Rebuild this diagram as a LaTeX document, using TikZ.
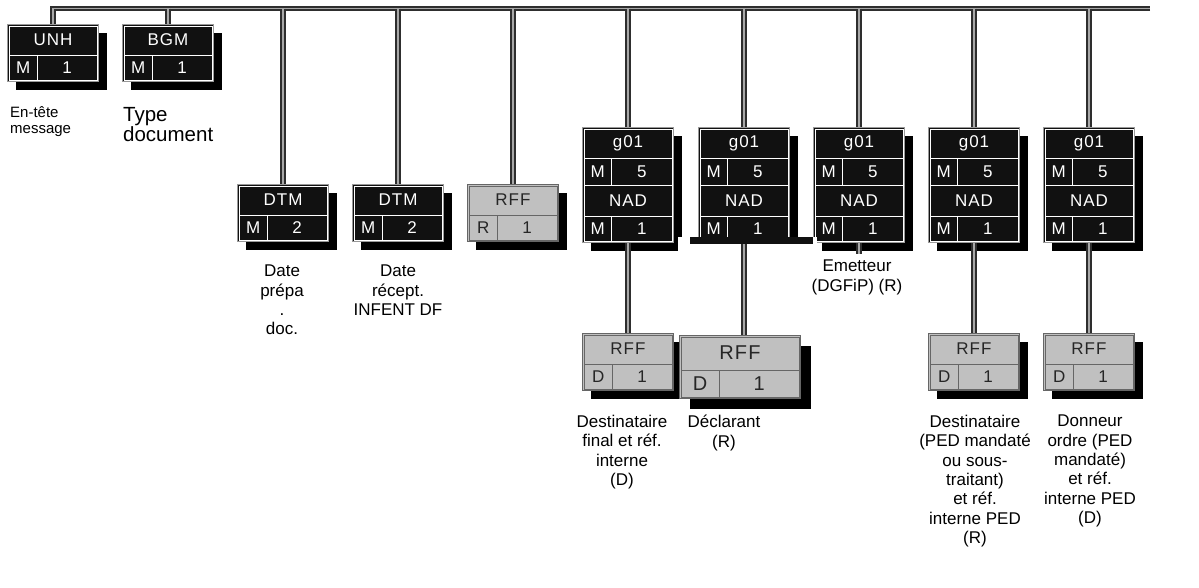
\documentclass[tikz,border=0pt]{standalone}
\usepackage{fontspec}
\setmainfont{Liberation Sans}
\newfontfamily\boxfont[LetterSpace=6]{Liberation Sans}
\usetikzlibrary{calc, shadows}
\definecolor{cSeg}{HTML}{111111}
\definecolor{cCond}{HTML}{C0C0C0}
\definecolor{cLink}{HTML}{2E2E2E}
\definecolor{cLinkIn}{HTML}{A8A8A8}

% segment box: [text opts] kind, name, north-west corner, tag, status, repeat
\newcommand{\segbox}[7][]{%
  \node[#2] (#3) at (#4) {};
  \coordinate (#3-a) at ($(#3.north west)+(2,2)$);
  \coordinate (#3-b) at ($(#3.south east)+(-2,-2)$);
  \coordinate (#3-m) at ($(#3.north west)!0.55!(#3.south west)$);
  \coordinate (#3-d) at ($(#3-m)!0.33!(#3-m -| #3.east)$);
  \draw[#2 grid] (#3-a) rectangle (#3-b);
  \draw[#2 grid] (#3-a |- #3-m) -- (#3-b |- #3-m);
  \draw[#2 grid] (#3-d) -- (#3-d |- #3-b);
  \node[#2 txt, #1] at ($(#3.north)!0.5!(#3.north |- #3-m)$) {#5};
  \node[#2 txt, #1] at ($(#3-a |- #3-m)!0.5!(#3-d |- #3-b)$) {#6};
  \node[#2 txt, #1] at ($(#3-d)!0.5!(#3-b)$) {#7};
}

% group box: name, north-west corner, group, status, repeat, tag, status, repeat
\newcommand{\grpbox}[8]{%
  \node[grp] (#1) at (#2) {};
  \coordinate (#1-a) at ($(#1.north west)+(2,2)$);
  \coordinate (#1-b) at ($(#1.south east)+(-2,-2)$);
  \coordinate (#1-p) at ($(#1.north west)!0.274!(#1.south west)$);
  \coordinate (#1-q) at ($(#1.north west)!0.5!(#1.south west)$);
  \coordinate (#1-r) at ($(#1.north west)!0.77!(#1.south west)$);
  \coordinate (#1-d) at ($(#1-p)!0.32!(#1-p -| #1.east)$);
  \draw[seg grid] (#1-a) rectangle (#1-b);
  \draw[seg grid] (#1-a |- #1-p) -- (#1-b |- #1-p);
  \draw[seg grid] (#1-a |- #1-q) -- (#1-b |- #1-q);
  \draw[seg grid] (#1-a |- #1-r) -- (#1-b |- #1-r);
  \draw[seg grid] (#1-d) -- (#1-d |- #1-q);
  \draw[seg grid] (#1-d |- #1-r) -- (#1-d |- #1-b);
  \node[seg txt] at ($(#1.north)!0.5!(#1.north |- #1-p)$) {#3};
  \node[seg txt] at ($(#1-a |- #1-p)!0.5!(#1-d |- #1-q)$) {#4};
  \node[seg txt] at ($(#1-d)!0.5!(#1-b |- #1-q)$) {#5};
  \node[seg txt] at ($(#1.north |- #1-q)!0.5!(#1.north |- #1-r)$) {#6};
  \node[seg txt] at ($(#1-a |- #1-r)!0.5!(#1-d |- #1-b)$) {#7};
  \node[seg txt] at ($(#1-d |- #1-r)!0.5!(#1-b)$) {#8};
}

\begin{document}
\begin{tikzpicture}[
  x=1pt, y=-1pt,
  box/.style={anchor=north west, inner sep=0pt, line width=1pt,
              minimum width=91pt, minimum height=57pt},
  hard shadow/.style={general shadow={fill=black, shadow xshift=#1, shadow yshift=-#1}},
  seg/.style={box, fill=cSeg, draw=black!40, hard shadow=8pt},
  cond/.style={box, fill=cCond, draw=black!60, hard shadow=8pt},
  bigcond/.style={box, fill=cCond, draw=black!60, hard shadow=10pt,
                  minimum width=121pt, minimum height=63pt},
  grp/.style={seg, minimum height=115pt},
  seg grid/.style={draw=white, line width=1pt},
  cond grid/.style={draw=black!60, line width=1pt},
  bigcond grid/.style={cond grid},
  seg txt/.style={font=\boxfont\fontsize{17}{17}\selectfont, text=white, inner sep=0pt},
  cond txt/.style={seg txt, text=black!85},
  bigcond txt/.style={cond txt, font=\boxfont\fontsize{20}{20}\selectfont},
  link/.style={draw=cLink, line width=2pt, double=cLinkIn, double distance=1.2pt},
  lbl/.style={align=center, inner sep=0pt, anchor=north,
              font=\fontsize{17}{19.3}\selectfont},
]
\useasboundingbox (0,0) rectangle (1199,587);

% ====================== message bus ======================
\coordinate (busR) at (1150,8.5);

% ====================== header segments ==================
\segbox{seg}{unh}{7,24}{UNH}{M}{1}
\segbox{seg}{bgm}{122,24}{BGM}{M}{1}
\segbox{seg}{dtma}{237,184}{DTM}{M}{2}
\segbox{seg}{dtmb}{352,184}{DTM}{M}{2}
\segbox{cond}{rffa}{467,184}{RFF}{R}{1}

% ====================== g01 groups =======================
\grpbox{nada}{582,127}{g01}{M}{5}{NAD}{M}{1}
\grpbox{nadb}{698,127}{g01}{M}{5}{NAD}{M}{1}
\grpbox{nadc}{813,127}{g01}{M}{5}{NAD}{M}{1}
\grpbox{nadd}{928,127}{g01}{M}{5}{NAD}{M}{1}
\grpbox{nade}{1043,127}{g01}{M}{5}{NAD}{M}{1}

% ====================== references =======================
\segbox{cond}{rffb}{582,333}{RFF}{D}{1}
\segbox{bigcond}{rffc}{679,335}{RFF}{D}{1}
\segbox{cond}{rffd}{928,333}{RFF}{D}{1}
\segbox{cond}{rffe}{1043,333}{RFF}{D}{1}

% bus and drops
\draw[link] (busR) -| (unh.north);
\foreach \n in {bgm, dtma, dtmb, rffa, nada, nadb, nadc, nadd, nade}
  \draw[link] (\n.north |- busR) -- (\n.north);

% lower links
\coordinate (emstub) at ($(nadc.south)+(0,11)$);
\draw[link] (nada.south) -- (rffb.north);
\draw[link] (nadc.south) -- (emstub);
\draw[link] (nadd.south) -- (rffd.north);
\draw[link] (nade.south) -- (rffe.north);
\fill[white] (678,237) rectangle (817,253);
\draw[link] (nadb.south) -- (nadb.south |- rffc.north);
\fill[cSeg] (690,237) rectangle (813,244);

% ====================== labels ===========================
\node[lbl, anchor=north west, align=left, font=\fontsize{15}{16.5}\selectfont]
  (tunh) at (10,106) {En-tête\\message};
\node[lbl, anchor=north west, align=left, font=\fontsize{20.5}{19}\selectfont]
  (tbgm) at (123,107) {Type\\document};
\node[lbl] (tdtma) at (282,265) {Date\\prépa\\.\\doc.};
\node[lbl] (tdtmb) at (398,265) {Date\\récept.\\INFENT DF};
\node[lbl] (tnadc) at (857,260) {Emetteur\\(DGFiP) (R)};
\node[lbl] (trffb) at (622,415) {Destinataire\\final et réf.\\interne\\(D)};
\node[lbl] (trffc) at (724,415) {Déclarant\\(R)};
\node[lbl] (trffd) at (975,415)
  {Destinataire\\(PED mandaté\\ou sous-\\traitant)\\et réf.\\interne PED\\(R)};
\node[lbl] (trffe) at (1090,415)
  {Donneur\\ordre (PED\\mandaté)\\et réf.\\interne PED\\(D)};

\end{tikzpicture}
\end{document}
